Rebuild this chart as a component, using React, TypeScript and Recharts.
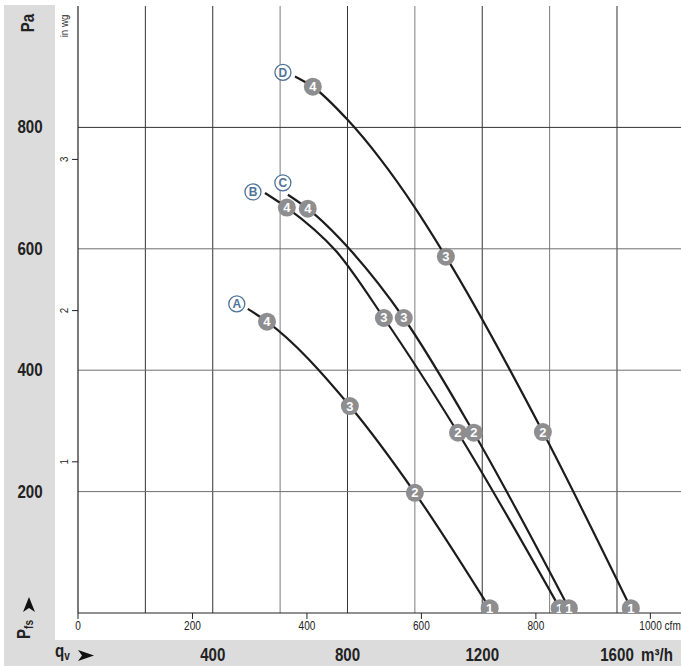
import { LineChart, Line, XAxis, YAxis, ReferenceLine } from 'recharts';

// fan curves A-D: flow (m³/h) vs static pressure (Pa)
const FLOW_A = [504, 561, 807, 1000, 1222];
const PRESS_A = [501, 480, 341, 198, 8];
const MARKS_A = ['', '4', '3', '2', '1'];

const FLOW_B = [555, 620, 768, 908, 1128, 1430];
const PRESS_B = [692, 668, 595, 486, 297, 8];
const MARKS_B = ['', '4', '', '3', '2', '1'];

const FLOW_C = [623, 682, 813, 967, 1175, 1457];
const PRESS_C = [689, 666, 595, 486, 297, 8];
const MARKS_C = ['', '4', '', '3', '2', '1'];

const FLOW_D = [644, 697, 801, 896, 1000, 1092, 1380, 1641];
const PRESS_D = [884, 867, 812, 749, 668, 587, 298, 8];
const MARKS_D = ['', '4', '', '', '', '3', '2', '1'];

const PA_TICKS = [200, 400, 600, 800];
const WG_TICKS = [1, 2, 3];
const CFM_TICKS = [0, 200, 400, 600, 800, 1000];
const M3H_LABELS = [400, 800, 1200, 1600];
const M3H_GRID = [200, 400, 600, 800, 1000, 1200, 1400, 1600];

const Q_MAX = 1790;
const PA_MAX = 1000;
const PA_PER_INWG = 249.09;
const M3H_PER_CFM = 1.699;

const FONT = '"Liberation Sans", Arial, sans-serif';
const GREY_BAND = '#dcdcdd';
const NARROW = 0.84;

const curves = [
  { id: 'A', flow: FLOW_A, press: PRESS_A, marks: MARKS_A },
  { id: 'B', flow: FLOW_B, press: PRESS_B, marks: MARKS_B },
  { id: 'C', flow: FLOW_C, press: PRESS_C, marks: MARKS_C },
  { id: 'D', flow: FLOW_D, press: PRESS_D, marks: MARKS_D },
].map((c) => ({
  ...c,
  data: c.flow.map((q, i) => ({ q, p: c.press[i] })),
}));

// cfm ticks live on the m³/h axis, converted
const BOTTOM_TICKS = [...CFM_TICKS.map((c) => c * M3H_PER_CFM), ...M3H_LABELS].sort((a, b) => a - b);

// where the letter badge sits relative to the start of each curve
const LETTER_OFFSET: Record<string, [number, number]> = {
  A: [-11, -5],
  B: [-12, -1],
  C: [-5, -12],
  D: [-12, -4],
};

const darkGrid = (v: number) => v % 400 === 0 || v === 200;

// condensed look: Liberation Sans squeezed horizontally
function NText({ x, y, size, bold, anchor = 'middle', rotate, children }: any) {
  return (
    <text
      transform={`translate(${x}, ${y})${rotate ? ' rotate(-90)' : ''} scale(${NARROW}, 1)`}
      textAnchor={anchor}
      fontSize={size}
      fontWeight={bold ? 700 : 400}
      fill="#222"
      fontFamily={FONT}
    >
      {children}
    </text>
  );
}

const makeDot = (c: (typeof curves)[number]) => (props: any) => {
  const { cx, cy, index } = props;
  if (index === 0) {
    const [dx, dy] = LETTER_OFFSET[c.id];
    return (
      <g key={`lbl-${c.id}`}>
        <circle cx={cx + dx} cy={cy + dy} r={8} fill="#fff" stroke="#4f7398" strokeWidth={1.3} />
        <text
          x={cx + dx}
          y={cy + dy + 4.5}
          textAnchor="middle"
          fontSize={12}
          fontWeight={700}
          fill="#4f7398"
          fontFamily={FONT}
        >
          {c.id}
        </text>
      </g>
    );
  }
  const mark = c.marks[index];
  if (!mark) return <g key={`n-${c.id}-${index}`} />;
  return (
    <g key={`m-${c.id}-${index}`}>
      <circle cx={cx} cy={cy} r={9} fill="#8e8e90" />
      <text
        x={cx}
        y={cy + 4.5}
        textAnchor="middle"
        fontSize={13}
        fontWeight={700}
        fill="#fff"
        fontFamily={FONT}
      >
        {mark}
      </text>
    </g>
  );
};

const PaTick = ({ y, payload }: any) => (
  <NText x={30} y={y + 6} size={18} bold>
    {payload.value}
  </NText>
);

const WgTick = ({ y, payload }: any) => (
  <g>
    <line x1={72} x2={78} y1={y} y2={y} stroke="#222" />
    <NText x={68} y={y} size={11.5} rotate>
      {payload.value}
    </NText>
  </g>
);

const BottomTick = ({ x, payload }: any) => {
  const v = payload.value;
  if (M3H_LABELS.includes(v)) {
    return (
      <NText x={x} y={661} size={18} bold>
        {v}
      </NText>
    );
  }
  const cfm = Math.round(v / M3H_PER_CFM);
  return (
    <g>
      <line x1={x} x2={x} y1={613} y2={619} stroke="#222" />
      {cfm === 1000 ? (
        <NText x={x - 11} y={630} size={12} anchor="start">
          1000 cfm
        </NText>
      ) : (
        <NText x={x} y={630} size={12}>
          {cfm}
        </NText>
      )}
    </g>
  );
};

export default function App() {
  return (
    <div style={{ position: 'absolute', left: 0, top: 0, width: 681, height: 666, background: '#fff', overflow: 'hidden' }}>
      <div style={{ position: 'absolute', left: 4, top: 5, width: 51, height: 636, background: GREY_BAND }} />
      <div style={{ position: 'absolute', left: 4, top: 640, width: 677, height: 26, background: GREY_BAND }} />
      <div style={{ position: 'absolute', left: 0, top: 0 }}>
        <LineChart width={681} height={666} margin={{ top: 6, right: 0, left: 0, bottom: 0 }}>
          <XAxis
            xAxisId="q"
            dataKey="q"
            type="number"
            domain={[0, Q_MAX]}
            ticks={BOTTOM_TICKS}
            interval={0}
            height={53}
            axisLine={false}
            tickLine={false}
            tick={<BottomTick />}
            allowDataOverflow
          />
          <YAxis
            yAxisId="pa"
            dataKey="p"
            type="number"
            domain={[0, PA_MAX]}
            ticks={PA_TICKS}
            width={55}
            axisLine={false}
            tickLine={false}
            tick={<PaTick />}
            allowDataOverflow
          />
          <YAxis
            yAxisId="wg"
            type="number"
            domain={[0, PA_MAX / PA_PER_INWG]}
            ticks={WG_TICKS}
            width={23}
            axisLine={false}
            tickLine={false}
            tick={<WgTick />}
            allowDataOverflow
          />
          {M3H_GRID.map((v) => (
            <ReferenceLine
              key={`vx-${v}`}
              x={v}
              xAxisId="q"
              yAxisId="pa"
              stroke={darkGrid(v) ? '#333' : '#7c7c7c'}
              strokeWidth={1}
            />
          ))}
          {PA_TICKS.map((v) => (
            <ReferenceLine
              key={`hy-${v}`}
              y={v}
              xAxisId="q"
              yAxisId="pa"
              stroke={v === 800 ? '#333' : '#6e6e6e'}
              strokeWidth={1}
            />
          ))}
          <ReferenceLine x={0} xAxisId="q" yAxisId="pa" stroke="#222" strokeWidth={1.2} />
          <ReferenceLine y={0} xAxisId="q" yAxisId="pa" stroke="#222" strokeWidth={1.2} />
          {curves.map((c) => (
            <Line
              key={c.id}
              data={c.data}
              xAxisId="q"
              yAxisId="pa"
              dataKey="p"
              type="monotone"
              stroke="#1c1c1c"
              strokeWidth={2.2}
              dot={makeDot(c)}
              activeDot={false}
              isAnimationActive={false}
            />
          ))}
        </LineChart>
      </div>
      <svg width={681} height={666} style={{ position: 'absolute', left: 0, top: 0, pointerEvents: 'none' }}>
        <NText x={34} y={23} size={18} bold rotate>
          Pa
        </NText>
        <NText x={68} y={26} size={11.5} rotate>
          in wg
        </NText>
        <text
          transform={`translate(30, 639) rotate(-90) scale(${NARROW}, 1)`}
          fontSize={18}
          fontWeight={700}
          fill="#222"
          fontFamily={FONT}
        >
          P
          <tspan fontSize={12} dy={3}>fs</tspan>
        </text>
        <path d="M29,597 L35,612 L29,608 L23,612 Z" fill="#111" />
        <text
          transform={`translate(55, 657) scale(${NARROW}, 1)`}
          fontSize={18}
          fontWeight={700}
          fill="#222"
          fontFamily={FONT}
        >
          q<tspan fontSize={12} dy={3}>v</tspan>
        </text>
        <path d="M78,650 L94,655.5 L78,661 L82,655.5 Z" fill="#111" />
        <NText x={641} y={661} size={18} bold anchor="start">
          m³/h
        </NText>
      </svg>
    </div>
  );
}
